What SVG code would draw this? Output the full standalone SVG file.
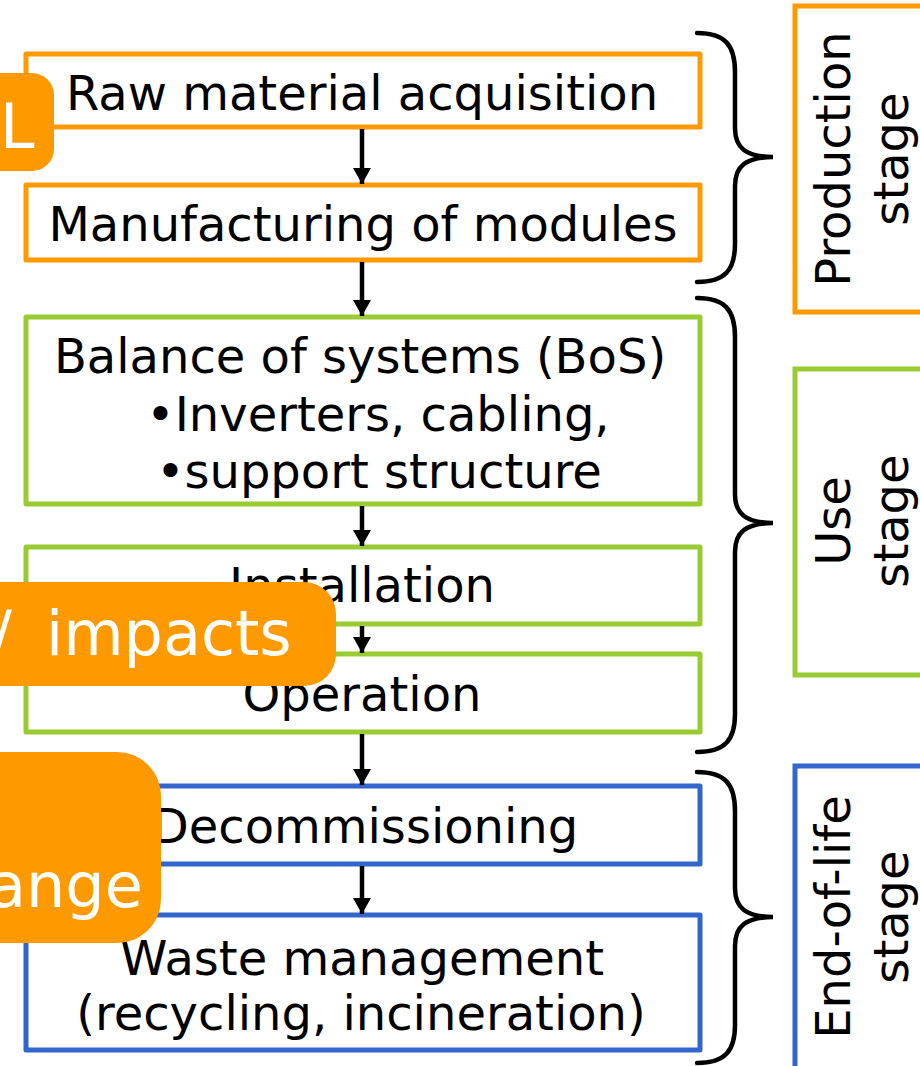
<svg xmlns="http://www.w3.org/2000/svg" width="920" height="1066" viewBox="0 0 920 1066">
  <defs>
    <style>
      .lbl { font-family: "DejaVu Sans", Verdana, sans-serif; font-size: 48px; fill: #000; text-anchor: middle; }
      .stg { font-family: "DejaVu Sans", Verdana, sans-serif; font-size: 48px; fill: #000; text-anchor: middle; }
      .call { font-family: "DejaVu Sans", Verdana, sans-serif; font-size: 62px; fill: #fff; }
      .box { fill: #fff; stroke-width: 5; stroke-linejoin: round; }
      .prod { stroke: #FF9900; }
      .use { stroke: #99CC33; }
      .eol { stroke: #3366CC; }
      .stagebox { fill: none; stroke-width: 5; }
      .brace { fill: none; stroke: #000; stroke-width: 4.5; stroke-linecap: round; }
      .arrow { stroke: #000; stroke-width: 4.5; }
      .callout { fill: #FF9900; }
    </style>
    <marker id="head" viewBox="0 0 16 18" refX="16" refY="9" markerWidth="16" markerHeight="18" markerUnits="userSpaceOnUse" orient="auto">
      <path d="M0,0 L16,9 L0,18 Z" fill="#000"/>
    </marker>
  </defs>

  <!-- life-cycle process boxes -->
  <g id="raw-material">
    <rect class="box prod" x="26" y="54" width="674" height="73"/>
    <text class="lbl" x="362" y="110">Raw material acquisition</text>
  </g>
  <g id="manufacturing">
    <rect class="box prod" x="26" y="185" width="674" height="75"/>
    <text class="lbl" x="363" y="241">Manufacturing of modules</text>
  </g>
  <g id="bos">
    <rect class="box use" x="26" y="317" width="674" height="187"/>
    <text class="lbl" x="360" y="373">Balance of systems (BoS)</text>
    <text class="lbl" x="378" y="431">•Inverters, cabling,</text>
    <text class="lbl" x="379" y="488">•support structure</text>
  </g>
  <g id="installation">
    <rect class="box use" x="26" y="547" width="674" height="77"/>
    <text class="lbl" x="362" y="602">Installation</text>
  </g>
  <g id="operation">
    <rect class="box use" x="26" y="654" width="674" height="78"/>
    <text class="lbl" x="362" y="711">Operation</text>
  </g>
  <g id="decommissioning">
    <rect class="box eol" x="26" y="786" width="674" height="78"/>
    <text class="lbl" x="365" y="843">Decommissioning</text>
  </g>
  <g id="waste">
    <rect class="box eol" x="26" y="915" width="674" height="135"/>
    <text class="lbl" x="362" y="975">Waste management</text>
    <text class="lbl" x="361" y="1030">(recycling, incineration)</text>
  </g>

  <!-- flow arrows -->
  <g id="connectors">
    <line class="arrow" x1="362" y1="129" x2="362" y2="184" marker-end="url(#head)"/>
    <line class="arrow" x1="362" y1="262" x2="362" y2="316" marker-end="url(#head)"/>
    <line class="arrow" x1="362" y1="506" x2="362" y2="546" marker-end="url(#head)"/>
    <line class="arrow" x1="362" y1="626" x2="362" y2="653" marker-end="url(#head)"/>
    <line class="arrow" x1="362" y1="734" x2="362" y2="785" marker-end="url(#head)"/>
    <line class="arrow" x1="362" y1="866" x2="362" y2="914" marker-end="url(#head)"/>
  </g>

  <!-- stage braces -->
  <g id="brace-production">
    <path class="brace" d="M697,33 C725,33 735,45 735,72 L735,128 C735,148 746,157 773,157 C746,157 735,166 735,186 L735,244 C735,270 725,282 697,282"/>
  </g>
  <g id="brace-use">
    <path class="brace" d="M697,298 C725,298 735,310 735,337 L735,494 C735,514 746,523 773,523 C746,523 735,532 735,552 L735,714 C735,740 725,752 697,752"/>
  </g>
  <g id="brace-eol">
    <path class="brace" d="M697,772 C725,772 735,784 735,811 L735,888 C735,908 746,917 773,917 C746,917 735,926 735,946 L735,1025 C735,1051 725,1063 697,1063"/>
  </g>

  <!-- stage labels -->
  <g id="stage-production">
    <rect class="stagebox prod" x="795" y="6" width="160" height="306"/>
    <text class="stg" transform="translate(850,159) rotate(-90)">Production</text>
    <text class="stg" transform="translate(908,159) rotate(-90)">stage</text>
  </g>
  <g id="stage-use">
    <rect class="stagebox use" x="795" y="369" width="160" height="306"/>
    <text class="stg" transform="translate(850,521) rotate(-90)">Use</text>
    <text class="stg" transform="translate(908,521) rotate(-90)">stage</text>
  </g>
  <g id="stage-eol">
    <rect class="stagebox eol" x="795" y="766" width="160" height="340"/>
    <text class="stg" transform="translate(850,917) rotate(-90)">End-of-life</text>
    <text class="stg" transform="translate(908,917) rotate(-90)">stage</text>
  </g>

  <!-- overlay callouts -->
  <g id="callout-l">
    <rect class="callout" x="-60" y="73" width="114" height="98" rx="22"/>
    <text class="call" x="0" y="148">L</text>
  </g>
  <g id="callout-impacts">
    <rect class="callout" x="-60" y="582" width="396" height="104" rx="32"/>
    <text class="call" x="-9" y="655">/<tspan x="46">impacts</tspan></text>
  </g>
  <g id="callout-change">
    <rect class="callout" x="-60" y="752" width="221" height="191" rx="44"/>
    <text class="call" x="-12" y="907">ange</text>
  </g>
</svg>
